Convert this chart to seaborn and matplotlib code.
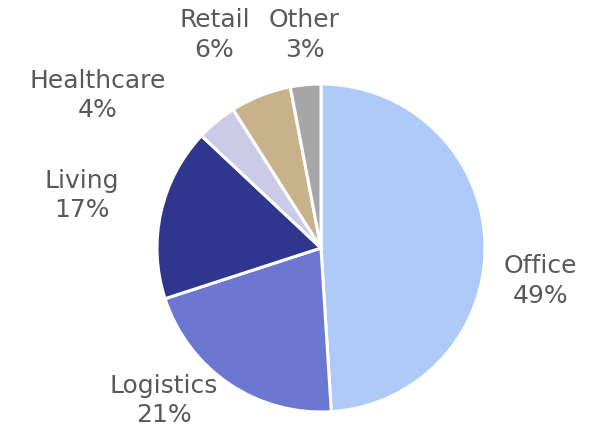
import seaborn as sns
import matplotlib.pyplot as plt

sns.set_theme(style="white")
plt.rcParams['font.family'] = ['DejaVu Sans']

sectors = ["Office", "Logistics", "Living", "Healthcare", "Retail", "Other"]
shares = [49, 21, 17, 4, 6, 3]
colours = ["#ADCAF8", "#6B77D1", "#2E368E", "#CBCBE8", "#C8B28A", "#A6A6A6"]

# where each label sits, in pie radii from the centre
label_xy = [(1.34, -0.20), (-0.96, -0.93), (-1.46, 0.32),
            (-1.36, 0.93), (-0.65, 1.30), (-0.10, 1.30)]

fig = plt.figure(figsize=(5.98, 4.34), dpi=100)
ax = fig.add_axes([157 / 598, 22 / 434, 328 / 598, 328 / 434])

pal = sns.color_palette(colours)
ax.pie(shares, colors=pal, startangle=90, counterclock=False, radius=1,
       wedgeprops=dict(edgecolor="white", linewidth=2.2))
ax.set_xlim(-1, 1)
ax.set_ylim(-1, 1)
ax.set_aspect("equal")
ax.axis("off")

for name, val, (x, y) in zip(sectors, shares, label_xy):
    ax.text(x, y, f"{name}\n{val}%", ha="center", va="center",
            fontsize=18, color="#595959", linespacing=1.3, clip_on=False)

fig.savefig("out.png", dpi=100)
